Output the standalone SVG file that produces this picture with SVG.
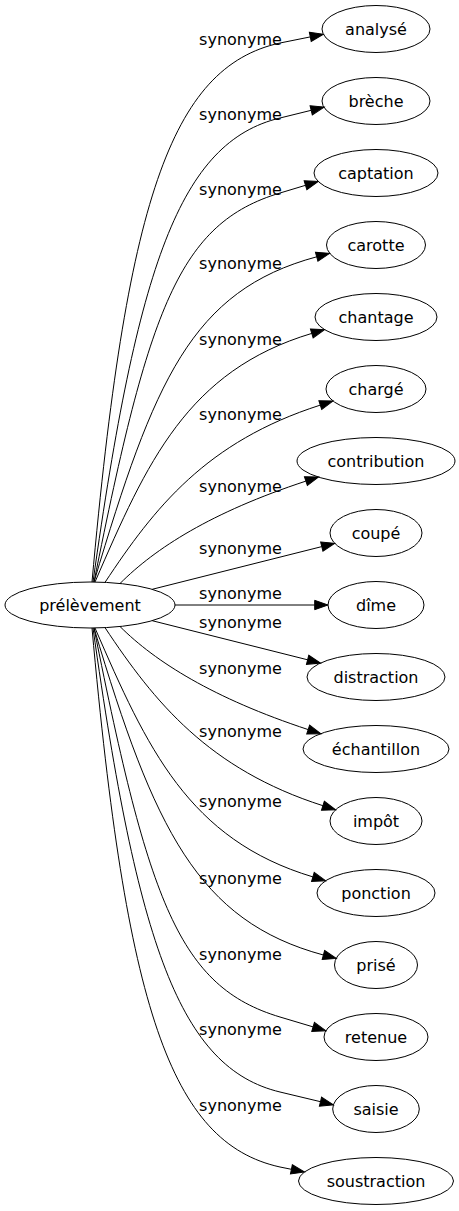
<svg xmlns="http://www.w3.org/2000/svg" width="459" height="1211" viewBox="0 0 459 1211">
<style>
.n ellipse{fill:none;stroke:#000;stroke-width:1}
.n text{font-family:"DejaVu Sans","Liberation Sans",sans-serif;font-size:16px;text-anchor:middle;fill:#000}
.e path{fill:none;stroke:#000;stroke-width:1;marker-end:url(#arr)}
.e text{font-family:"DejaVu Sans","Liberation Sans",sans-serif;font-size:16px;text-anchor:middle;fill:#000}
</style>
<defs>
<marker id="arr" markerUnits="userSpaceOnUse" markerWidth="16" markerHeight="12" refX="0" refY="5" orient="auto" viewBox="-1 -1 16 12" style="overflow:visible">
<path d="M0,0.33 L13.3,5 L0,9.67 z" fill="#000" stroke="#000" stroke-width="1"/>
</marker>
</defs>
<rect width="459" height="1211" fill="#fff"/>
<g id="connectors" class="e">
<g id="e1"><path d="M92,582 C126.1,203.5 170,67.2 280,43 L310.3,36.9"/><text x="240.5" y="45">synonyme</text></g>
<g id="e2"><path d="M93,582 C137.5,265.2 180,142 280,118 L311.2,110.3"/><text x="240.5" y="120">synonyme</text></g>
<g id="e3"><path d="M94,582 C148.9,307.3 179.4,223.1 280,193 L305.5,185.3"/><text x="240.5" y="195">synonyme</text></g>
<g id="e4"><path d="M94,582 C154,381 191.2,290.6 316.7,256.8"/><text x="240.5" y="269">synonyme</text></g>
<g id="e5"><path d="M95,582 C147,462 187.3,370.7 311.8,333.4"/><text x="240.5" y="345">synonyme</text></g>
<g id="e6"><path d="M105,582.4 C154.5,507.7 206.1,441.7 320.3,405.1"/><text x="240.5" y="420">synonyme</text></g>
<g id="e7"><path d="M120,583.5 C155.4,548.2 210.9,512.4 305.9,481.1"/><text x="240.5" y="492">synonyme</text></g>
<g id="e8"><path d="M152.2,589.3 L321.8,546.6"/><text x="240.5" y="554">synonyme</text></g>
<g id="e9"><path d="M175,605 L314.7,605"/><text x="240.5" y="599">synonyme</text></g>
<g id="e10"><path d="M152.2,620.7 L307.6,659.8"/><text x="240.5" y="628">synonyme</text></g>
<g id="e11"><path d="M120,626.5 C155.4,661.8 213.2,698.3 308.2,729.6"/><text x="240.5" y="674">synonyme</text></g>
<g id="e12"><path d="M105,627.6 C154.5,702.3 208.7,769.1 322.9,805.7"/><text x="240.5" y="737">synonyme</text></g>
<g id="e13"><path d="M95,628 C147,748 188.4,839.6 312.9,876.9"/><text x="240.5" y="807">synonyme</text></g>
<g id="e14"><path d="M94,628 C154,829 197.9,921.2 323.4,955"/><text x="240.5" y="884">synonyme</text></g>
<g id="e15"><path d="M94,628 C148.9,902.7 179.4,986.9 280,1017 L313.1,1026.9"/><text x="240.5" y="960">synonyme</text></g>
<g id="e16"><path d="M93,628 C137.5,944.8 180,1068 280,1092 L320.5,1101.7"/><text x="240.5" y="1035">synonyme</text></g>
<g id="e17"><path d="M92,628 C126.1,1006.5 170,1142.8 280,1167 L291.4,1169.3"/><text x="240.5" y="1111">synonyme</text></g>
</g>
<g id="prelevement" class="n"><ellipse cx="90" cy="605" rx="85" ry="23"/><text x="90" y="610.5">prélèvement</text></g>
<g id="analyse" class="n"><ellipse cx="376" cy="29" rx="54" ry="23.5"/><text x="376" y="34.5">analysé</text></g>
<g id="breche" class="n"><ellipse cx="376" cy="101" rx="54" ry="23.5"/><text x="376" y="106.5">brèche</text></g>
<g id="captation" class="n"><ellipse cx="376" cy="173" rx="62" ry="23.5"/><text x="376" y="178.5">captation</text></g>
<g id="carotte" class="n"><ellipse cx="376" cy="245" rx="49.5" ry="23.5"/><text x="376" y="250.5">carotte</text></g>
<g id="chantage" class="n"><ellipse cx="376" cy="317" rx="61" ry="23.5"/><text x="376" y="322.5">chantage</text></g>
<g id="charge" class="n"><ellipse cx="376" cy="389" rx="50" ry="23.5"/><text x="376" y="394.5">chargé</text></g>
<g id="contribution" class="n"><ellipse cx="376" cy="461" rx="79" ry="23.5"/><text x="376" y="466.5">contribution</text></g>
<g id="coupe" class="n"><ellipse cx="376" cy="533" rx="46" ry="23.5"/><text x="376" y="538.5">coupé</text></g>
<g id="dime" class="n"><ellipse cx="376" cy="605" rx="48" ry="23.5"/><text x="376" y="610.5">dîme</text></g>
<g id="distraction" class="n"><ellipse cx="376" cy="677" rx="69" ry="23.5"/><text x="376" y="682.5">distraction</text></g>
<g id="echantillon" class="n"><ellipse cx="376" cy="749" rx="73" ry="23.5"/><text x="376" y="754.5">échantillon</text></g>
<g id="impot" class="n"><ellipse cx="376" cy="821" rx="46" ry="23.5"/><text x="376" y="826.5">impôt</text></g>
<g id="ponction" class="n"><ellipse cx="376" cy="893" rx="59" ry="23.5"/><text x="376" y="898.5">ponction</text></g>
<g id="prise" class="n"><ellipse cx="376" cy="965" rx="41.5" ry="23.5"/><text x="376" y="970.5">prisé</text></g>
<g id="retenue" class="n"><ellipse cx="376" cy="1037" rx="52" ry="23.5"/><text x="376" y="1042.5">retenue</text></g>
<g id="saisie" class="n"><ellipse cx="376" cy="1109" rx="43.3" ry="23.5"/><text x="376" y="1114.5">saisie</text></g>
<g id="soustraction" class="n"><ellipse cx="376" cy="1181" rx="77.5" ry="23.5"/><text x="376" y="1186.5">soustraction</text></g>
</svg>
